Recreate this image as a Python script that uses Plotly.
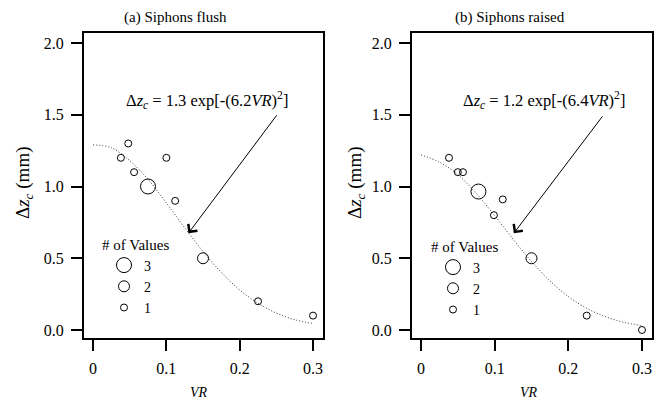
import plotly.graph_objects as go

# ---------------- data ----------------
# (a) Siphons flush
vr_flush = [0.038, 0.048, 0.056, 0.075, 0.100, 0.112, 0.150, 0.225, 0.300]
dz_flush = [1.20, 1.30, 1.10, 1.00, 1.20, 0.90, 0.50, 0.20, 0.10]
n_flush = [1, 1, 1, 3, 1, 1, 2, 1, 1]

# (b) Siphons raised
vr_raised = [0.038, 0.050, 0.057, 0.078, 0.099, 0.111, 0.150, 0.225, 0.300]
dz_raised = [1.20, 1.10, 1.10, 0.965, 0.80, 0.91, 0.50, 0.10, 0.00]
n_raised = [1, 1, 1, 3, 1, 1, 2, 1, 1]

# fitted curves (dotted)
fit_vr = [0.0, 0.025, 0.05, 0.075, 0.10, 0.125, 0.15, 0.175, 0.20, 0.225, 0.25, 0.275, 0.30]
fit_flush = [1.29, 1.27, 1.18, 1.05, 0.885, 0.713, 0.547, 0.401, 0.279, 0.186, 0.118, 0.071, 0.045]
fit_raised = [1.22, 1.17, 1.083, 0.953, 0.797, 0.633, 0.478, 0.342, 0.233, 0.151, 0.093, 0.054, 0.03]

panel_titles = ["(a) Siphons flush", "(b) Siphons raised"]
eq_texts = ["Δ<i>z</i><sub><i>c</i></sub> = 1.3 exp[-(6.2<i>VR</i>)<sup>2</sup>]",
            "Δ<i>z</i><sub><i>c</i></sub> = 1.2 exp[-(6.4<i>VR</i>)<sup>2</sup>]"]
count_levels = [3, 2, 1]
x_tickvals = [0, 0.1, 0.2, 0.3]
x_ticktext = ["0", "0.1", "0.2", "0.3"]
y_tickvals = [0, 0.5, 1.0, 1.5, 2.0]
y_ticktext = ["0.0", "0.5", "1.0", "1.5", "2.0"]

# ---------------- figure ----------------
OFF = 8                      # page body margin of the html page
W, H = 662 - 2 * OFF, 392
FONT = "Liberation Serif"
size_px = {1: 7, 2: 11, 3: 15}

fig = go.Figure()

panels = [
    (vr_flush, dz_flush, n_flush, fit_flush, "x", "y", "legend"),
    (vr_raised, dz_raised, n_raised, fit_raised, "x2", "y2", "legend2"),
]
for vr, dz, nn, fit, xa, ya, lg in panels:
    fig.add_trace(go.Scatter(x=fit_vr, y=fit, mode="lines", line_shape="spline",
                             line=dict(color="#333333", width=1, dash="1px,2px"),
                             xaxis=xa, yaxis=ya, showlegend=False, hoverinfo="skip"))
    for k in count_levels:
        xs = [v for v, c in zip(vr, nn) if c == k]
        ys = [d for d, c in zip(dz, nn) if c == k]
        fig.add_trace(go.Scatter(x=xs, y=ys, mode="markers", name=str(k),
                                 marker=dict(symbol="circle-open", size=size_px[k], color="black",
                                             line=dict(width=1, color="black")),
                                 xaxis=xa, yaxis=ya, legend=lg, legendgroup=lg + str(k)))

axis_common = dict(showline=True, linewidth=2, linecolor="black", mirror=True,
                   ticks="outside", ticklen=11, tickwidth=2, tickcolor="black",
                   showgrid=False, zeroline=False,
                   tickfont=dict(family=FONT, size=16, color="black"), ticklabelstandoff=4)


def px_x(p):
    return (p - OFF) / W


def px_y(p):
    return 1 - (p - OFF) / H


legend_common = dict(xanchor="left", yanchor="top", bgcolor="rgba(0,0,0,0)",
                     itemsizing="trace", tracegroupgap=0, indentation=4,
                     title=dict(text="# of Values", font=dict(family=FONT, size=15)),
                     font=dict(family=FONT, size=14))

fig.update_layout(
    width=W, height=H, margin=dict(l=0, r=0, t=0, b=0),
    paper_bgcolor="white", plot_bgcolor="white",
    font=dict(family=FONT, size=13, color="black"),
    xaxis=dict(domain=[px_x(84), px_x(323)], range=[-0.0123, 0.3136], anchor="y",
               tickvals=x_tickvals, ticktext=x_ticktext, **axis_common),
    yaxis=dict(domain=[px_y(338), px_y(33)], range=[-0.056, 2.07], anchor="x",
               tickvals=y_tickvals, ticktext=y_ticktext, **axis_common),
    xaxis2=dict(domain=[px_x(412), px_x(652)], range=[-0.0122, 0.3136], anchor="y2",
                tickvals=x_tickvals, ticktext=x_ticktext, **axis_common),
    yaxis2=dict(domain=[px_y(338), px_y(33)], range=[-0.056, 2.07], anchor="x2",
                tickvals=y_tickvals, ticktext=y_ticktext, **axis_common),
    legend=dict(x=px_x(100), y=px_y(230), **legend_common),
    legend2=dict(x=px_x(429), y=px_y(232), **legend_common),
)

annotations = []
# panel titles
for t, cx in zip(panel_titles, [175, 510]):
    annotations.append(dict(text=t, xref="paper", yref="paper", x=px_x(cx), y=px_y(17),
                            showarrow=False, font=dict(family=FONT, size=15),
                            xanchor="center", yanchor="middle"))
# axis titles
for cx in [24, 356]:
    annotations.append(dict(text="Δ<i>z</i><sub><i>c</i></sub> (mm)", xref="paper", yref="paper",
                            x=px_x(cx), y=px_y(183), textangle=-90, showarrow=False,
                            font=dict(family=FONT, size=19), xanchor="center", yanchor="middle"))
for cx in [199, 529]:
    annotations.append(dict(text="<i>VR</i>", xref="paper", yref="paper", x=px_x(cx), y=px_y(392),
                            showarrow=False, font=dict(family=FONT, size=14),
                            xanchor="center", yanchor="middle"))
# equations and arrows
eq_pos = [("x", "y", 0.156, 1.60, 0.252, 1.507, 0.130, 0.674),
          ("x2", "y2", 0.167, 1.60, 0.248, 1.50, 0.126, 0.674)]
for (xa, ya, tx, ty, ax, ay, hx, hy), txt in zip(eq_pos, eq_texts):
    annotations.append(dict(text=txt, xref=xa, yref=ya, x=tx, y=ty, showarrow=False,
                            font=dict(family=FONT, size=16.5), xanchor="center", yanchor="middle"))
    annotations.append(dict(text="", xref=xa, yref=ya, x=hx, y=hy, axref=xa, ayref=ya,
                            ax=ax, ay=ay, showarrow=True, arrowhead=4, arrowsize=2.2,
                            arrowwidth=1, arrowcolor="black"))
fig.update_layout(annotations=annotations)

fig.write_html("out.html")
